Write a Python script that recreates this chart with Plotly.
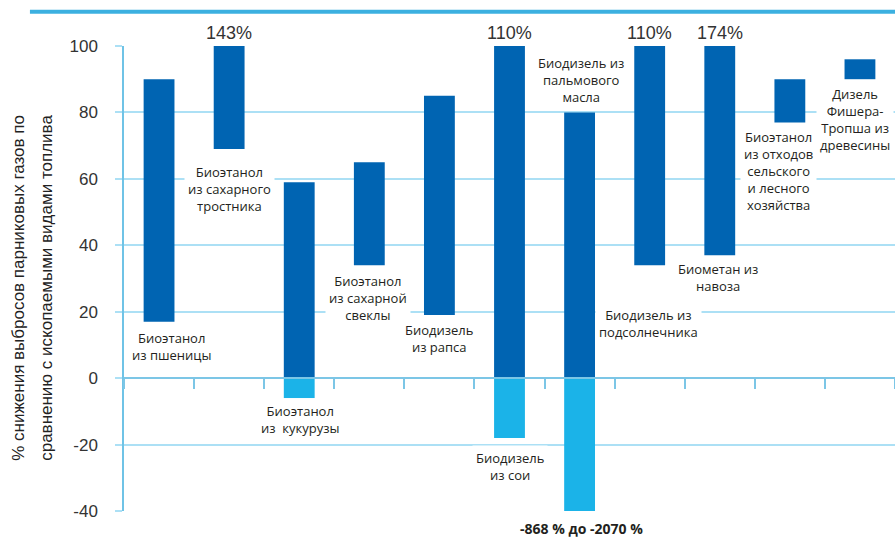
import plotly.graph_objects as go

# ---------------- data ----------------
categories = [
    "Биоэтанол из пшеницы",
    "Биоэтанол из сахарного тростника",
    "Биоэтанол из кукурузы",
    "Биоэтанол из сахарной свеклы",
    "Биодизель из рапса",
    "Биодизель из сои",
    "Биодизель из пальмового масла",
    "Биодизель из подсолнечника",
    "Биометан из навоза",
    "Биоэтанол из отходов сельского и лесного хозяйства",
    "Дизель Фишера-Тропша из древесины",
]
reduction_high = [90, 143, 59, 65, 85, 110, 80, 110, 174, 90, 96]
reduction_low = [17, 69, -6, 34, 19, -18, -868, 34, 37, 77, 90]
low_end_note = "-868 % до -2070 %"
y_ticks = [-40, -20, 0, 20, 40, 60, 80, 100]
y_tick_labels = ["-40", "-20", "0", "20", "40", "60", "80", "100"]
y_title_lines = ["% снижения выбросов парниковых газов по",
                 "сравнению с ископаемыми видами топлива"]
label_texts = [
    "Биоэтанол<br>из пшеницы",
    "Биоэтанол<br>из сахарного<br>тростника",
    "Биоэтанол<br>из  кукурузы",
    "Биоэтанол<br>из сахарной<br>свеклы",
    "Биодизель<br>из рапса",
    "Биодизель<br>из сои",
    "Биодизель из<br>пальмового<br>масла",
    "Биодизель из<br>подсолнечника",
    "Биометан из<br>навоза",
    "Биоэтанол<br>из отходов<br>сельского<br>и лесного<br>хозяйства",
    "Дизель<br>Фишера-<br>Тропша из<br>древесины",
]

# ---------------- layout config (positions/styles) ----------------
y_min, y_max = -40, 100
label_anchor = [(9.5, 12), (56.8, 0), (-12.4, 1), (24.2, -1), (12, 0), (-26.5, 0),
                (89.8, 1), (16.5, -1), (30.4, -2), (62.3, -11), (77.8, -5)]
DARK = "#0064b2"
LIGHT = "#1bb3e8"
GRID = "#ace0f5"
AXIS = "#6fc3e6"
TXT = "#231f20"

pos_base, pos_len, neg_base, neg_len = [], [], [], []
for hi, lo in zip(reduction_high, reduction_low):
    b = max(lo, 0)
    pos_base.append(b)
    pos_len.append(hi - b if hi > 0 else 0)
    if lo < 0:
        neg_base.append(lo)
        neg_len.append(min(hi, 0) - lo)
    else:
        neg_base.append(0)
        neg_len.append(0)

fig = go.Figure()
fig.add_trace(go.Bar(x=categories, y=pos_len, base=pos_base, marker_color=DARK,
                     marker_line_width=0, width=0.44, showlegend=False))
fig.add_trace(go.Bar(x=categories, y=neg_len, base=neg_base, marker_color=LIGHT,
                     marker_line_width=0, width=0.44, showlegend=False))

annotations = []
for cat, txt, (ly, sx) in zip(categories, label_texts, label_anchor):
    annotations.append(dict(x=cat, y=ly, xref="x", yref="y", text=txt, showarrow=False,
                            xshift=sx, bgcolor="white", borderpad=3,
                            font=dict(family="Open Sans", size=13, color=TXT)))
for cat, hi, lo in zip(categories, reduction_high, reduction_low):
    if hi > y_max:
        annotations.append(dict(x=cat, y=y_max, xref="x", yref="y", text=f"{hi}%",
                                showarrow=False, yanchor="bottom", yshift=1,
                                font=dict(family="Liberation Sans", size=18, color="#333333")))
    if lo < y_min:
        annotations.append(dict(x=cat, y=y_min, xref="x", yref="y",
                                text=f"<b>{low_end_note}</b>", showarrow=False,
                                yanchor="top", yshift=-6, xshift=2,
                                font=dict(family="Open Sans", size=14, color=TXT)))
for i, line in enumerate(y_title_lines):
    annotations.append(dict(x=0, y=0.48, xref="paper", yref="paper", text=line,
                            showarrow=False, textangle=-90, xanchor="center", yanchor="middle",
                            xshift=-105 + 28 * i,
                            font=dict(family="Liberation Sans", size=17, color="#222222")))

fig.update_layout(
    width=895, height=544,
    margin=dict(l=124, r=0, t=46, b=33),
    paper_bgcolor="white", plot_bgcolor="white",
    barmode="overlay",
    annotations=annotations,
    shapes=[dict(type="line", xref="paper", yref="paper", x0=-0.122, x1=1,
                 y0=1.0738, y1=1.0738, line=dict(color="#3cb0e0", width=4))],
    xaxis=dict(showticklabels=False, showgrid=False, zeroline=False,
               anchor="free", position=(0 - y_min) / (y_max - y_min),
               showline=True, linecolor="#7cc6e6", linewidth=2,
               ticks="outside", tickson="boundaries", ticklen=10, tickwidth=1.5,
               tickcolor="#7cc6e6"),
    yaxis=dict(range=[y_min, y_max], tickvals=y_ticks, ticktext=y_tick_labels,
               showgrid=True, gridcolor=GRID,
               gridwidth=1.5, zeroline=False, showline=True, linecolor=AXIS, linewidth=1.5,
               ticks="outside", ticklen=7, tickcolor=GRID, tickwidth=1.5,
               ticklabelstandoff=14,
               tickfont=dict(family="Liberation Sans", size=17, color="#333333")),
)

fig.write_html("out.html")
